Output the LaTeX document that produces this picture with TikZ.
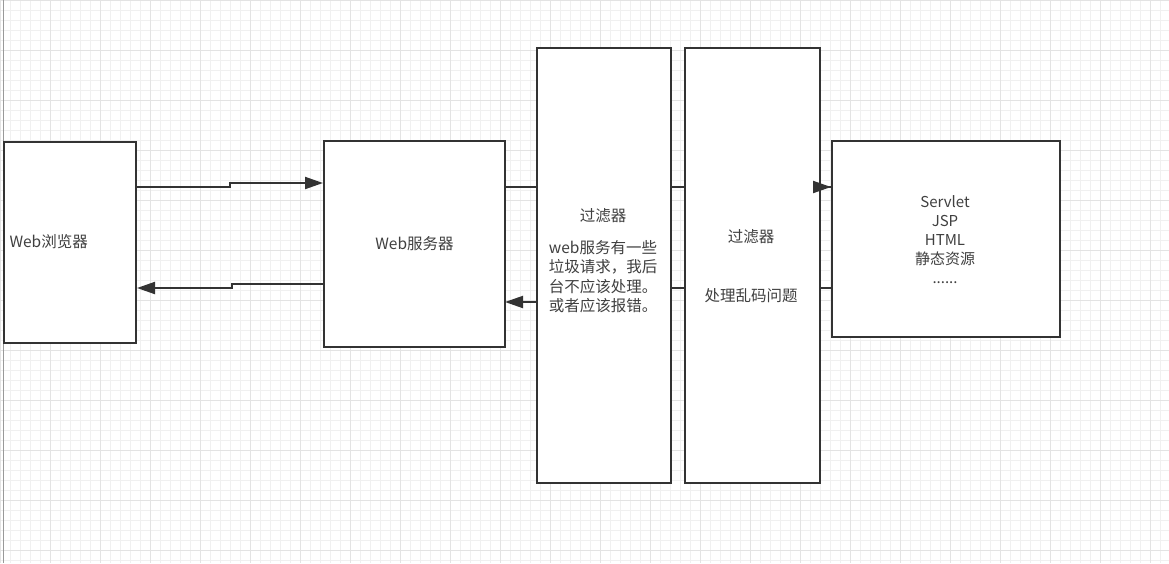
\documentclass[tikz,border=0pt]{standalone}
\usepackage{fontspec}
\setmainfont{Noto Sans CJK SC}
\usetikzlibrary{arrows.meta}
\begin{document}
\begin{tikzpicture}[x=1pt,y=-1pt,
  box/.style={draw=black!80,line width=2pt,fill=white},
  lbl/.style={font=\fontsize{15.5}{19.5}\selectfont,text=black!75,align=center},
  conn/.style={draw=black!80,line width=2pt,-{Triangle[length=18pt,width=12pt]}}]
\useasboundingbox (0,0) rectangle (1169,563);
\fill[white] (0,0) rectangle (1169,563);
\foreach \i in {0,10,...,1160} \draw[black!6,line width=0.7pt] (\i,0) -- (\i,563);
\foreach \i in {0,10,...,560} \draw[black!6,line width=0.7pt] (0,\i) -- (1169,\i);
\foreach \i in {0,50,...,1150} \draw[black!11,line width=0.7pt] (\i,0) -- (\i,563);
\foreach \i in {0,50,...,550} \draw[black!11,line width=0.7pt] (0,\i) -- (1169,\i);
\draw[black!40,line width=1pt] (3,0) -- (3,563);
\coordinate (s1) at (504,187);
\coordinate (r1) at (831,288);
\coordinate (r2) at (505,302);
\draw[draw=black!80,line width=2pt] (s1) -- (831,187);
\draw[draw=black!80,line width=2pt] (r1) -- (600,288) -- (600,302) -- (560,302);
\node[box,minimum width=132,minimum height=201,anchor=north west,inner sep=0] (b) at (3,141) {};
\node[lbl,anchor=west] at (6,242) {Web浏览器};
\node[box,minimum width=181,minimum height=206,anchor=north west,inner sep=0] (w) at (323,140) {};
\node[lbl] at (w.center) {Web服务器};
\node[box,minimum width=134,minimum height=435,anchor=north west,inner sep=0] (f1) at (536,47) {};
\node[lbl,anchor=north] at (603,205) {过滤器\\[12pt]web服务有一些\\垃圾请求，我后\\台不应该处理。\\或者应该报错。};
\node[box,minimum width=135,minimum height=435,anchor=north west,inner sep=0] (f2) at (684,47) {};
\node[lbl] at (751,237) {过滤器};
\node[lbl] at (751,296) {处理乱码问题};
\node[box,minimum width=228,minimum height=196,anchor=north west,inner sep=0] (sv) at (831,140) {};
\node[lbl,font=\fontsize{15}{19}\selectfont] at (945,240) {Servlet\\JSP\\HTML\\静态资源\\......};
\draw[conn] (820,187) -- (sv.west |- 0,187);
\draw[conn] (536,302) -- (r2);
\draw[conn] (b.east |- 0,187) -- (230,187) -- (230,183) -- (w.west |- 0,183);
\draw[conn] (w.west |- 0,284) -- (232,284) -- (232,288) -- (b.east |- 0,288);
\end{tikzpicture}
\end{document}
